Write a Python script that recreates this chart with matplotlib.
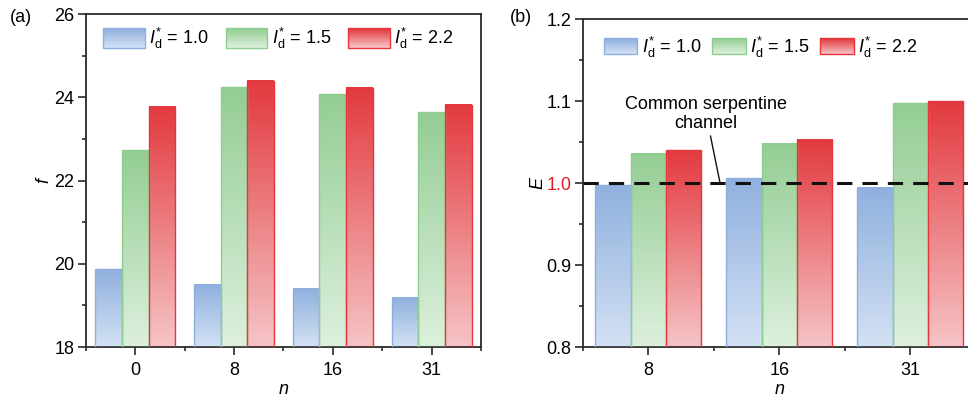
import numpy as np
import matplotlib
matplotlib.use('Agg')
import matplotlib.pyplot as plt
from matplotlib.colors import LinearSegmentedColormap
from matplotlib.patches import Rectangle, Patch
from matplotlib.legend_handler import HandlerBase
from matplotlib.ticker import MultipleLocator

plt.rcParams['font.family'] = ['Liberation Sans', 'DejaVu Sans']
plt.rcParams['mathtext.fontset'] = 'custom'
plt.rcParams['mathtext.rm'] = 'Liberation Sans'
plt.rcParams['mathtext.it'] = 'Liberation Sans:italic'
plt.rcParams['font.size'] = 13

# panel (a): friction factor f
n_a = ['0', '8', '16', '31']
f_10 = [19.87, 19.49, 19.40, 19.18]
f_15 = [22.73, 24.24, 24.07, 23.64]
f_22 = [23.77, 24.40, 24.23, 23.82]

# panel (b): E relative to common serpentine channel
n_b = ['8', '16', '31']
e_10 = [0.997, 1.006, 0.994]
e_15 = [1.036, 1.048, 1.097]
e_22 = [1.040, 1.053, 1.100]
e_ref = 1.0

labels = [r'$\mathit{I}_\mathrm{d}^{*}$ = 1.0',
          r'$\mathit{I}_\mathrm{d}^{*}$ = 1.5',
          r'$\mathit{I}_\mathrm{d}^{*}$ = 2.2']

# (top colour, bottom colour, edge colour)
styles = [('#90b0de', '#d3e1f4', '#8eaee0'),
          ('#94cd94', '#ddf0dd', '#8ccf8c'),
          ('#e23a3f', '#f6c4c6', '#e6353b')]

bar_w = 0.27
spine_c = '#2a2a2a'


def grad_cmap(top, bottom):
    return LinearSegmentedColormap.from_list('g', [bottom, top])


class GradHandler(HandlerBase):
    def __init__(self, top, bottom, edge):
        super().__init__()
        self.cmap = grad_cmap(top, bottom)
        self.edge = edge

    def create_artists(self, legend, orig_handle, xdescent, ydescent,
                       width, height, fontsize, trans):
        arts = []
        n = 24
        for i in range(n):
            r = Rectangle((-xdescent, -ydescent + height * i / n), width, height / n + 0.3,
                          facecolor=self.cmap(i / (n - 1)), edgecolor='none', transform=trans)
            arts.append(r)
        arts.append(Rectangle((-xdescent, -ydescent), width, height, facecolor='none',
                              edgecolor=self.edge, lw=1.0, transform=trans))
        return arts


def grad_bars(ax, series, base):
    x = np.arange(len(series[0]))
    grad = np.linspace(0, 1, 128).reshape(-1, 1)
    for k, vals in enumerate(series):
        top, bottom, edge = styles[k]
        cmap = grad_cmap(top, bottom)
        xs = x + (k - 1) * bar_w
        bars = ax.bar(xs, np.array(vals) - base, bar_w, bottom=base, facecolor='none',
                      edgecolor=edge, lw=1.0, zorder=3)
        for b in bars:
            x0 = b.get_x()
            ax.imshow(grad, cmap=cmap, origin='lower', aspect='auto', zorder=2,
                      extent=[x0, x0 + b.get_width(), base, base + b.get_height()])


def style_axes(ax):
    for s in ax.spines.values():
        s.set_linewidth(1.3)
        s.set_color(spine_c)
    ax.tick_params(which='both', direction='out', width=1.2, color=spine_c,
                   top=False, right=False, labelsize=13, pad=3)
    ax.tick_params(which='major', length=5.5)
    ax.tick_params(which='minor', length=3)
    ax.tick_params(axis='x', pad=5)


def add_legend(ax, hl, hh, anchor, colsp):
    handles = [Patch() for _ in styles]
    hmap = {h: GradHandler(*st) for h, st in zip(handles, styles)}
    ax.legend(handles, labels, handler_map=hmap, ncol=3, loc='upper left',
              bbox_to_anchor=anchor, frameon=False, handlelength=hl, handleheight=hh,
              handletextpad=0.25, columnspacing=colsp, borderaxespad=0, fontsize=13)


fig = plt.figure(figsize=(9.68, 3.99), dpi=100)
ax1 = fig.add_axes([0.0888, 0.1303, 0.408, 0.8346])
ax2 = fig.add_axes([0.6023, 0.1303, 0.4056, 0.822])

# panel (a)
grad_bars(ax1, [f_10, f_15, f_22], 18)
ax1.set_xlim(-0.5, 3.5)
ax1.set_ylim(18, 26)
ax1.set_xticks(range(len(n_a)))
ax1.set_xticklabels(n_a)
ax1.xaxis.set_minor_locator(MultipleLocator(1, offset=0.5))
ax1.yaxis.set_major_locator(MultipleLocator(2))
ax1.yaxis.set_minor_locator(MultipleLocator(1))
style_axes(ax1)
ax1.set_xlabel('n', style='italic', labelpad=2)
ax1.set_ylabel('f', style='italic', labelpad=1)
add_legend(ax1, 2.3, 1.3, (0.025, 0.985), 0.95)
fig.text(0.010, 0.957, '(a)', fontsize=13, ha='left', va='center')

# panel (b)
grad_bars(ax2, [e_10, e_15, e_22], 0.8)
ax2.axhline(e_ref, color='#111111', lw=2.2, ls=(0, (5, 3.3)), zorder=4)
ax2.set_xlim(-0.5, 2.5)
ax2.set_ylim(0.8, 1.2)
ax2.set_xticks(range(len(n_b)))
ax2.set_xticklabels(n_b)
ax2.xaxis.set_minor_locator(MultipleLocator(1, offset=0.5))
ax2.yaxis.set_major_locator(MultipleLocator(0.1))
ax2.yaxis.set_minor_locator(MultipleLocator(0.05))
ax2.yaxis.set_major_formatter(matplotlib.ticker.FormatStrFormatter('%.1f'))
style_axes(ax2)
ax2.spines['right'].set_visible(False)
ax2.set_xlabel('n', style='italic', labelpad=2)
ax2.set_ylabel('E', style='italic', labelpad=0)
add_legend(ax2, 1.85, 1.0, (0.035, 0.975), 0.6)
fig.canvas.draw()
for t in ax2.get_yticklabels():
    if abs(float(t.get_text()) - e_ref) < 1e-6:
        t.set_color('#e31d24')
ax2.annotate('Common serpentine\nchannel', xy=(0.547, e_ref), xytext=(0.44, 1.084),
             ha='center', va='center', fontsize=13, linespacing=1.1,
             arrowprops=dict(arrowstyle='-', color='#111111', lw=1.0, shrinkA=1, shrinkB=0))
fig.text(0.527, 0.957, '(b)', fontsize=13, ha='left', va='center')

fig.savefig('out.png', dpi=100)
